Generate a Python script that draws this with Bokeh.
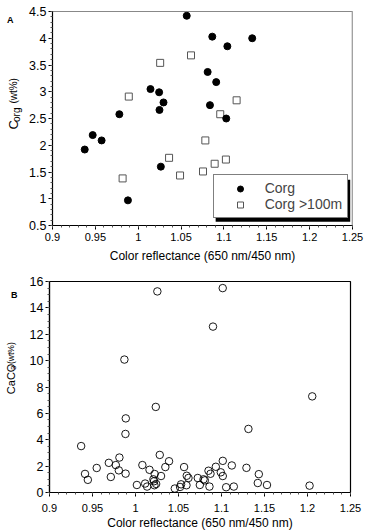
import numpy as np
from math import pi
from bokeh.plotting import figure
from bokeh.models import (FixedTicker, Legend, LegendItem, Span,
                          BoxAnnotation, Range1d)
from bokeh.core.properties import value
from bokeh.layouts import column, row
from bokeh.embed import file_html
from bokeh.resources import INLINE

FONT = "Liberation Sans"

# ---------------- data ----------------
# Panel A: organic carbon vs colour reflectance
corg_x = [1.0566, 1.0864, 1.1330, 1.1040, 1.0810, 1.0910, 1.0143, 1.0244,
          1.0295, 1.0248, 1.0837, 1.1027, 0.9780, 0.9469, 0.9573, 0.9376,
          1.0264, 0.9880]
corg_y = [4.42, 4.03, 4.00, 3.85, 3.37, 3.18, 3.05, 2.99,
          2.80, 2.66, 2.75, 2.50, 2.58, 2.19, 2.09, 1.92,
          1.60, 0.97]
deep_x = [1.0616, 1.0256, 0.9890, 1.1148, 1.0957, 1.0783, 1.0360, 0.9818,
          1.0488, 1.0756, 1.0892, 1.1023]
deep_y = [3.68, 3.54, 2.91, 2.84, 2.58, 2.09, 1.765, 1.38,
          1.435, 1.51, 1.654, 1.733]
legend_labels = ["Corg", "Corg >100m"]

# Panel B: CaCO3 vs colour reflectance
caco3_x = [1.0254, 1.1014, 1.0901, 0.9871, 1.2055, 1.0236, 0.9887, 0.9883,
           1.1313, 0.9368, 1.0282, 0.9813, 1.0390, 1.1015, 0.9690, 1.0080,
           0.9771, 1.1120, 0.9549, 1.0565, 1.0347, 1.0934, 1.1290, 1.0163,
           0.9806, 1.0849, 1.0992, 0.9413, 0.9885, 1.0223, 1.0872, 1.1434,
           1.1015, 0.9713, 1.0297, 1.0596, 1.0724, 1.0616, 0.9446, 1.0791,
           1.0806, 1.0208, 1.0215, 1.0112, 1.0240, 1.0016, 1.0135, 1.0220,
           1.0518, 1.0530, 1.0593, 1.0748, 1.1422, 1.1529, 1.2024, 1.0457,
           1.0860, 1.1054, 1.1143]
caco3_y = [15.25, 15.50, 12.58, 10.08, 7.29, 6.49, 5.62, 4.44,
           4.82, 3.52, 2.85, 2.65, 2.37, 2.40, 2.25, 2.08,
           2.08, 2.05, 1.86, 1.93, 1.93, 1.95, 1.87, 1.72,
           1.68, 1.65, 1.53, 1.41, 1.43, 1.40, 1.42, 1.39,
           1.25, 1.18, 1.25, 1.27, 1.10, 1.10, 0.96, 1.00,
           0.92, 1.00, 0.85, 0.68, 0.65, 0.57, 0.45, 0.55,
           0.42, 0.62, 0.55, 0.57, 0.72, 0.57, 0.52, 0.30,
           0.45, 0.40, 0.45]

x_ticks = [0.9, 0.95, 1.0, 1.05, 1.1, 1.15, 1.2, 1.25]
x_tick_labels = ["0.9", "0.95", "1", "1.05", "1.1", "1.15", "1.2", "1.25"]
a_y_ticks = [0.5, 1.0, 1.5, 2.0, 2.5, 3.0, 3.5, 4.0, 4.5]
a_y_tick_labels = ["0.5", "1", "1.5", "2", "2.5", "3", "3.5", "4", "4.5"]
b_y_ticks = [0, 2, 4, 6, 8, 10, 12, 14, 16]
b_y_tick_labels = ["0", "2", "4", "6", "8", "10", "12", "14", "16"]
x_label = "Color reflectance (650 nm/450 nm)"

FRAME_W = 301
A_FRAME_H = 214
B_FRAME_H = 212
STRIP_W = 26
PANEL_H = 266


def style_axes(p, yticks, ylabels, yminor_step):
    xminor = list(np.round(np.arange(x_ticks[0], x_ticks[-1] + 1e-9, 0.01), 4))
    yminor = list(np.round(np.arange(yticks[0], yticks[-1] + 1e-9, yminor_step), 4))
    p.xaxis.ticker = FixedTicker(ticks=x_ticks, minor_ticks=xminor)
    p.yaxis.ticker = FixedTicker(ticks=yticks, minor_ticks=yminor)
    p.xaxis.major_label_overrides = dict(zip(x_ticks, x_tick_labels))
    p.yaxis.major_label_overrides = dict(zip(yticks, ylabels))
    for ax in (p.xaxis[0], p.yaxis[0]):
        ax.axis_line_color = "black"
        ax.axis_line_width = 1.2
        ax.major_tick_line_color = "black"
        ax.minor_tick_line_color = "#555555"
        ax.major_tick_out = 4
        ax.major_tick_in = 0
        ax.minor_tick_out = 2
        ax.minor_tick_in = 0
        ax.major_label_text_font = FONT
        ax.major_label_text_color = "black"
        ax.axis_label_text_font = FONT
        ax.axis_label_text_font_style = "normal"
        ax.axis_label_text_color = "black"
    p.xaxis.major_label_text_font_size = "11px"
    p.yaxis.major_label_text_font_size = "12.5px"
    p.xaxis.major_label_standoff = 3
    p.yaxis.major_label_standoff = 2
    p.xaxis.axis_label = x_label
    p.xaxis.axis_label_text_font_size = "12px"
    p.xaxis.axis_label_standoff = 5
    p.xgrid.visible = False
    p.ygrid.visible = False


def label_strip(items):
    """Narrow figure holding the rotated y-axis title and panel letter.
    Coordinates are pixels: x from the left, y from the bottom of the strip."""
    s = figure(width=STRIP_W, height=PANEL_H, x_range=Range1d(0, STRIP_W),
               y_range=Range1d(0, PANEL_H), output_backend="svg", toolbar_location=None,
               x_axis_location=None, y_axis_location=None,
               min_border_left=0, min_border_right=0, min_border_top=0, min_border_bottom=0)
    s.outline_line_color = None
    s.xgrid.visible = False
    s.ygrid.visible = False
    s.background_fill_color = "white"
    s.border_fill_color = "white"
    for (x, y, txt, size, ang, style, base) in items:
        s.text(x=[x], y=[y], text=[txt], angle=ang, text_font=value(FONT),
               text_font_size=value(size), text_font_style=style,
               text_baseline=base, text_align="left", text_color="black")
    return s


# ---------------- panel A ----------------
pA = figure(width=368 - STRIP_W, height=PANEL_H, x_range=Range1d(0.9, 1.25),
            y_range=Range1d(0.5, 4.5), output_backend="svg", toolbar_location=None,
            min_border_left=51 - STRIP_W, min_border_right=16, min_border_top=11,
            min_border_bottom=41)
pA.background_fill_color = "white"
pA.border_fill_color = "white"
pA.outline_line_color = "#888888"
pA.outline_line_width = 1
style_axes(pA, a_y_ticks, a_y_tick_labels, 0.1)

r_deep = pA.scatter(deep_x, deep_y, marker="square", size=7, fill_color="white",
                    line_color="#555555", line_width=1)
r_corg = pA.scatter(corg_x, corg_y, marker="circle", size=7, fill_color="black",
                    line_color="black")

pA.add_layout(Span(location=1.25, dimension="height", line_color="#bbbbbb", line_width=2))

# legend shadow (offset 3 px) and legend box
ax_per_px = 0.35 / FRAME_W
ay_per_px = 4.0 / A_FRAME_H
LEG_L, LEG_B, LEG_W, LEG_H = 160.7, 6.7, 135, 42
pA.add_layout(BoxAnnotation(left=0.9 + (LEG_L + 3) * ax_per_px,
                            right=0.9 + (LEG_L + LEG_W + 3) * ax_per_px,
                            bottom=0.5 + (LEG_B - 3) * ay_per_px,
                            top=0.5 + (LEG_B + LEG_H - 3) * ay_per_px,
                            fill_color="black", fill_alpha=1, line_color=None))
legend = Legend(items=[LegendItem(label=legend_labels[0], renderers=[r_corg]),
                       LegendItem(label=legend_labels[1], renderers=[r_deep])],
                location=(LEG_L, LEG_B), margin=0, padding=5, spacing=0,
                glyph_width=42, glyph_height=15, label_height=15, label_standoff=4,
                label_text_font=FONT, label_text_font_size="14px",
                border_line_color="black", border_line_width=1,
                background_fill_color="white", background_fill_alpha=1)
pA.add_layout(legend, "center")

# strip A: page coords -> strip coords (y = PANEL_H - page_y)
stripA = label_strip([
    (13.3, PANEL_H - 146.7, "C", "13px", pi / 2, "normal", "alphabetic"),
    (16.3, PANEL_H - 137.3, "org", "10px", pi / 2, "normal", "alphabetic"),
    (13.3, PANEL_H - 114.5, "(wt%)", "10px", pi / 2, "normal", "alphabetic"),
    (6.5, PANEL_H - 4.5, "A", "9px", 0, "bold", "top"),
])

# ---------------- panel B ----------------
pB = figure(width=368 - STRIP_W, height=PANEL_H, x_range=Range1d(0.9, 1.25),
            y_range=Range1d(0, 16), output_backend="svg", toolbar_location=None,
            min_border_left=49 - STRIP_W, min_border_right=18, min_border_top=15,
            min_border_bottom=39)
pB.background_fill_color = "white"
pB.border_fill_color = "white"
pB.outline_line_color = "black"
pB.outline_line_width = 1.2
style_axes(pB, b_y_ticks, b_y_tick_labels, 0.5)
pB.xaxis.major_label_standoff = 7
pB.xaxis.axis_label_standoff = 1

pB.scatter(caco3_x, caco3_y, marker="circle", size=7.5, fill_alpha=0,
           line_color="black", line_width=0.9)

# strip B: panel B starts at page y 266
stripB = label_strip([
    (10.0, PANEL_H - (408 - 266), "CaCO", "11px", pi / 2, "normal", "alphabetic"),
    (12.5, PANEL_H - (377.5 - 266), "3", "8px", pi / 2, "normal", "alphabetic"),
    (10.0, PANEL_H - (370 - 266), "(wt%)", "8.5px", pi / 2, "normal", "alphabetic"),
    (10.5, PANEL_H - (276.5 - 266), "B", "9px", 0, "bold", "top"),
])

layout = column(row(stripA, pA, spacing=0), row(stripB, pB, spacing=0), spacing=0)
open("out.html", "w").write(file_html(layout, INLINE))
